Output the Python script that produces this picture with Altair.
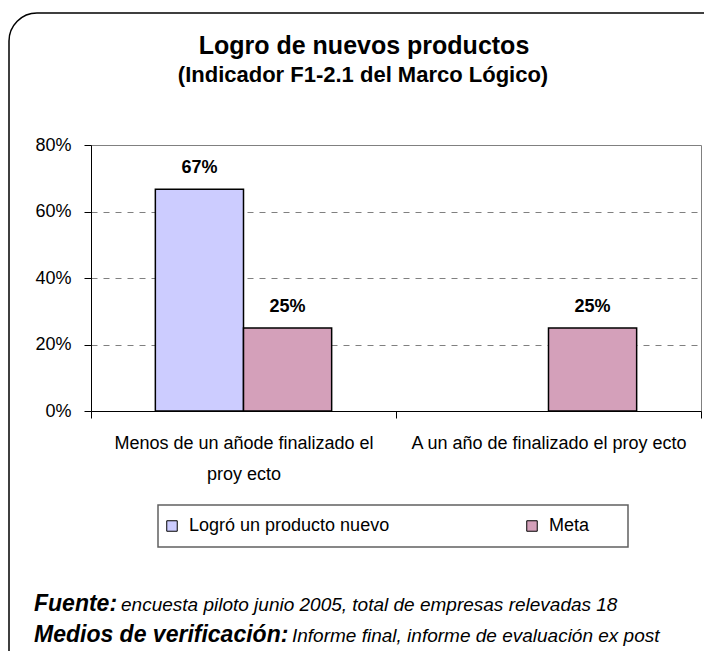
import json
import altair as alt
import pandas as pd

# ---- data ----
category_lines = [["Menos de un añode finalizado el", "proy ecto"],
                  ["A un año de finalizado el proy ecto"]]
categories = [" ".join(l) for l in category_lines]
series = ["Logró un producto nuevo", "Meta"]
logro_values = [0.667, None]
meta_values = [0.25, 0.25]
series_colors = ["#ccccff", "#d4a0ba"]
y_ticks = [0, 0.2, 0.4, 0.6, 0.8]

title_text = "Logro de nuevos productos"
subtitle_text = "(Indicador F1-2.1 del Marco Lógico)"
fuente_bold = "Fuente:"
fuente_text = "encuesta piloto junio 2005, total de empresas relevadas 18"
medios_bold = "Medios de verificación:"
medios_text = "Informe final, informe de evaluación ex post"

rows = []
for i, c in enumerate(categories):
    rows.append({"categoria": c, "serie": series[0], "valor": logro_values[i]})
    rows.append({"categoria": c, "serie": series[1], "valor": meta_values[i]})
df = pd.DataFrame(rows)
one = pd.DataFrame({"k": [0]})

FONT = "Liberation Sans"

# label expression for wrapped category labels
expr = "datum.label"
for c, lines in zip(categories, category_lines):
    if len(lines) > 1:
        expr = f"datum.value == {json.dumps(c)} ? {json.dumps(lines)} : ({expr})"

x_enc = alt.X(
    "categoria:N", sort=categories,
    scale=alt.Scale(paddingInner=0, paddingOuter=0),
    axis=alt.Axis(title=None, labelAngle=0, tickBand="extent", grid=False,
                  labelExpr=expr, labelFontSize=18, labelLineHeight=31,
                  labelPadding=16, tickSize=7, labelColor="black",
                  labelLimit=500,
                  domainColor="black", tickColor="black", labelFont=FONT),
)
xo_enc = alt.XOffset("serie:N", sort=series,
                     scale=alt.Scale(paddingInner=0, paddingOuter=0.73))
y_enc = alt.Y(
    "valor:Q",
    scale=alt.Scale(domain=[0, 0.8], nice=False, zero=True),
    axis=alt.Axis(title=None, values=y_ticks, format=".0%", grid=True,
                  gridDash=[6, 6], gridColor="#808080", gridWidth=1,
                  tickSize=7, labelPadding=13, labelFontSize=18,
                  labelColor="black", domainColor="black", tickColor="black",
                  labelFont=FONT),
)

bars = alt.Chart(df).mark_bar(stroke="black", strokeWidth=1.5).encode(
    x=x_enc, xOffset=xo_enc, y=y_enc,
    color=alt.Color(
        "serie:N", sort=series,
        scale=alt.Scale(domain=series, range=series_colors),
        legend=alt.Legend(title=None, orient="none", legendX=72, legendY=372,
                          direction="horizontal", symbolType="square",
                          symbolSize=110, symbolStrokeColor="black",
                          symbolStrokeWidth=1, symbolOpacity=1,
                          labelFontSize=18, labelFont=FONT, labelColor="black",
                          labelLimit=500,
                          labelOffset=8, columnPadding=133, padding=0),
    ),
)

labels = alt.Chart(df).mark_text(
    baseline="alphabetic", dy=-16, fontSize=18, fontWeight="bold",
    font=FONT, color="black",
).encode(x=x_enc, xOffset=xo_enc, y=y_enc,
         text=alt.Text("valor:Q", format=".0%"))

frame = alt.Chart(one).mark_rect(
    fill="white", fillOpacity=0, stroke="black", strokeWidth=1.5,
    cornerRadius=28,
).encode(x=alt.value(-82), x2=alt.value(650), y=alt.value(-132),
         y2=alt.value(535))

legend_box = alt.Chart(one).mark_rect(
    fill="white", fillOpacity=0, stroke="#606060", strokeWidth=1.5,
).encode(x=alt.value(67), x2=alt.value(537), y=alt.value(360),
         y2=alt.value(402))

title = alt.Chart(one).mark_text(
    text=title_text, fontSize=25, fontWeight="bold", font=FONT,
    align="center", baseline="alphabetic", color="black",
).encode(x=alt.value(273), y=alt.value(-91))
subtitle = alt.Chart(one).mark_text(
    text=subtitle_text, fontSize=22, fontWeight="bold", font=FONT,
    align="center", baseline="alphabetic", color="black",
).encode(x=alt.value(272), y=alt.value(-63))

f1 = alt.Chart(one).mark_text(
    text=fuente_bold, fontSize=23, fontWeight="bold", fontStyle="italic",
    font=FONT, align="left", baseline="alphabetic", color="black",
).encode(x=alt.value(-57), y=alt.value(466))
f2 = alt.Chart(one).mark_text(
    text=fuente_text, fontSize=19, fontStyle="italic",
    font=FONT, align="left", baseline="alphabetic", color="black",
).encode(x=alt.value(30), y=alt.value(466))
m1 = alt.Chart(one).mark_text(
    text=medios_bold, fontSize=23, fontWeight="bold", fontStyle="italic",
    font=FONT, align="left", baseline="alphabetic", color="black",
).encode(x=alt.value(-57), y=alt.value(497))
m2 = alt.Chart(one).mark_text(
    text=medios_text, fontSize=19, fontStyle="italic",
    font=FONT, align="left", baseline="alphabetic", color="black",
).encode(x=alt.value(201), y=alt.value(497))

chart = alt.layer(
    frame, legend_box, bars, labels, title, subtitle, f1, f2, m1, m2
).properties(
    width=610, height=266,
    padding={"left": 83, "top": 137, "right": 3, "bottom": 240},
    autosize=alt.AutoSizeParams(type="none"),
    background="white",
).configure(font=FONT).configure_view(stroke="#808080", strokeWidth=1)

chart.save("out.html", embed_options={"renderer": "svg", "actions": False})
